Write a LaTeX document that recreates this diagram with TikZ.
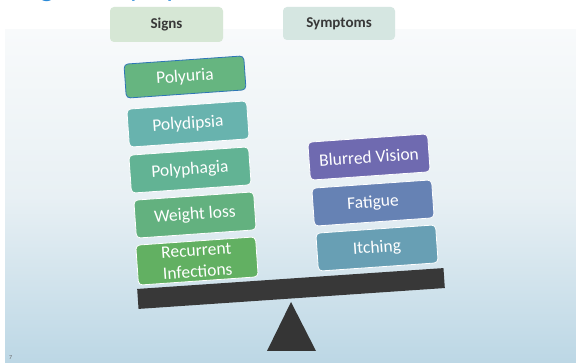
\documentclass[tikz,border=0pt]{standalone}
\usepackage{fontspec}
\setmainfont{Carlito}
\usetikzlibrary{shapes.geometric}
\definecolor{titleblue}{HTML}{2A8AD8}
\definecolor{hdrgreen}{HTML}{D6E7D5}
\definecolor{hdrteal}{HTML}{D5E6E1}
\definecolor{cPolyuria}{HTML}{66B580}
\definecolor{cPolydipsia}{HTML}{68B3AE}
\definecolor{cPolyphagia}{HTML}{62B394}
\definecolor{cWeight}{HTML}{63B17F}
\definecolor{cRecurrent}{HTML}{62B062}
\definecolor{cBlurred}{HTML}{6F6AB0}
\definecolor{cFatigue}{HTML}{6682B4}
\definecolor{cItching}{HTML}{689FB4}
\definecolor{beamgray}{HTML}{383838}
\definecolor{selblue}{HTML}{2E75B6}
\definecolor{bgtop}{HTML}{F8FAFB}
\definecolor{bgmid}{HTML}{E8F0F4}
\definecolor{bgbot}{HTML}{BCD7E5}
\tikzset{
  header/.style={fill=#1, rounded corners=4pt, inner sep=0pt, text=black!78,
    font=\bfseries\fontsize{15}{17}\selectfont},
  itembox/.style={fill=#1, draw=white, line width=0.8pt, rounded corners=4pt,
    minimum width=120pt, minimum height=38pt, inner sep=0pt, rotate=4,
    text=white, align=center, font=\fontsize{17.5}{21}\selectfont},
}
\begin{document}
\begin{tikzpicture}[x=1pt,y=-1pt]
\useasboundingbox (0,0) rectangle (576,363);
\fill[white] (0,0) rectangle (576,363);
\shade[top color=bgtop, bottom color=bgbot, middle color=bgmid] (5,30) rectangle (576,363);
\begin{scope}
\clip (0,0) rectangle (576,363);
\node[anchor=base west, inner sep=0pt, text=titleblue, font=\fontsize{30}{36}\selectfont] (title) at (19,-3.5) {Signs \& Symptoms of Diabetes};
\end{scope}
% headers
\node[header=hdrgreen, minimum width=113pt, minimum height=35pt] (hsigns) at (166.5,24.5) {Signs};
\node[header=hdrteal, minimum width=112pt, minimum height=33pt] (hsymp) at (339,23.5) {Symptoms};
% signs
\node[itembox=cPolyuria, draw=selblue, minimum height=34pt] (polyuria) at (185,77) {Polyuria};
\node[itembox=cPolydipsia] (polydipsia) at (188,124) {Polydipsia};
\node[itembox=cPolyphagia] (polyphagia) at (190,170) {Polyphagia};
\node[itembox=cWeight] (weight) at (195,215) {Weight loss};
\node[itembox=cRecurrent, minimum height=40pt] (recurrent) at (197,261) {Recurrent\\Infections};
% symptoms
\node[itembox=cBlurred] (blurred) at (369,157) {Blurred Vision};
\node[itembox=cFatigue] (fatigue) at (373,203) {Fatigue};
\node[itembox=cItching] (itching) at (377,248) {Itching};
% balance
\node[fill=beamgray, minimum width=307pt, minimum height=20pt, inner sep=0pt, rotate=3.9] (beam) at (291,288.5) {};
\coordinate (apex) at (291,302);
\coordinate (baseL) at (267,351);
\coordinate (baseR) at (316,351);
\fill[beamgray!95!black] (apex) -- (baseL) -- (baseR) -- cycle;
\node[text=black!60, font=\fontsize{6}{7}\selectfont, anchor=base west, inner sep=0pt] (pagenum) at (9,360) {7};
\end{tikzpicture}
\end{document}
